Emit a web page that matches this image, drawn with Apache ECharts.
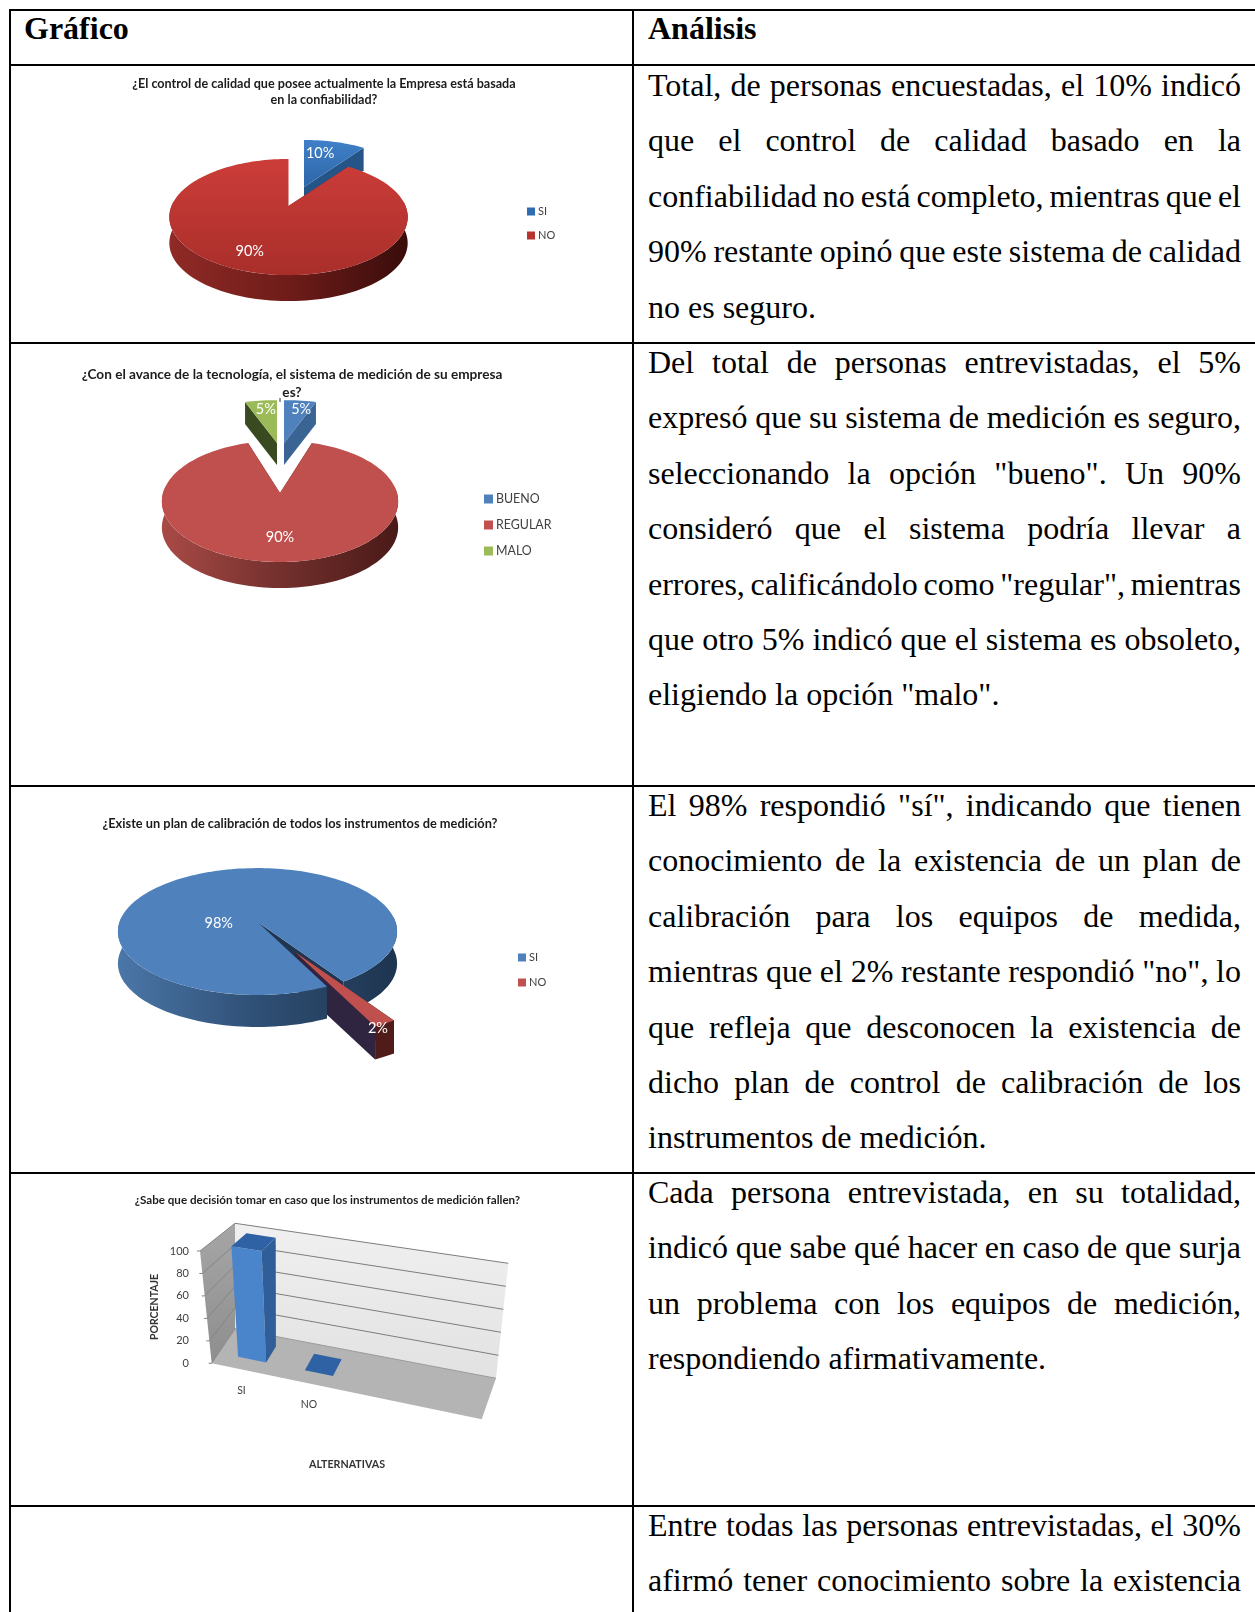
<!DOCTYPE html>
<html lang="es">
<head>
<meta charset="utf-8">
<title>Gráfico y análisis</title>
<script src="https://cdn.jsdelivr.net/npm/echarts@6/dist/echarts.min.js"></script>
<style>
  html, body { margin: 0; padding: 0; background: #fff; }
  #page { position: relative; width: 1255px; height: 1612px; overflow: hidden; background: #fff; }
  .rule { position: absolute; background: #000; }
  .chart { position: absolute; }
  .line { position: absolute; left: 648px; white-space: nowrap; font-family: "Liberation Serif", serif;
          font-size: 32px; line-height: 40px; color: #000; }
  .head { font-weight: bold; }
</style>
</head>
<body>
<div id="page"></div>
<script>
// ---- Chart values ----
const q1Categories = ['SI', 'NO'];
const q1Values = [10, 90];
const q2Categories = ['BUENO', 'REGULAR', 'MALO'];
const q2Values = [5, 90, 5];
const q3Categories = ['SI', 'NO'];
const q3Values = [98, 2];
const q4Categories = ['SI', 'NO', '', ''];
const q4Values = [100, 0];
const q4Ticks = [0, 20, 40, 60, 80, 100];

const q1Title = '¿El control de calidad que posee actualmente la Empresa está basada\nen la confiabilidad?';
const q2Title = '¿Con el avance de la tecnología, el sistema de medición de su empresa\nes?';
const q3Title = '¿Existe un plan de calibración de todos los instrumentos de medición?';
const q4Title = '¿Sabe que decisión tomar en caso que los instrumentos de medición fallen?';

// ---- Table text: one entry per printed line; the last line of a paragraph stays unjustified ----
const headers = [['Gráfico', 24, 28], ['Análisis', 648, 28]];
const paragraphs = [
  { center: 85, closed: true, lines: [
    'Total, de personas encuestadas, el 10% indicó',
    'que el control de calidad basado en la',
    'confiabilidad no está completo, mientras que el',
    '90% restante opinó que este sistema de calidad',
    'no es seguro.'] },
  { center: 362, closed: true, lines: [
    'Del total de personas entrevistadas, el 5%',
    'expresó que su sistema de medición es seguro,',
    'seleccionando la opción "bueno". Un 90%',
    'consideró que el sistema podría llevar a',
    'errores, calificándolo como "regular", mientras',
    'que otro 5% indicó que el sistema es obsoleto,',
    'eligiendo la opción "malo".'] },
  { center: 805, closed: true, lines: [
    'El 98% respondió "sí", indicando que tienen',
    'conocimiento de la existencia de un plan de',
    'calibración para los equipos de medida,',
    'mientras que el 2% restante respondió "no", lo',
    'que refleja que desconocen la existencia de',
    'dicho plan de control de calibración de los',
    'instrumentos de medición.'] },
  { center: 1192, closed: true, lines: [
    'Cada persona entrevistada, en su totalidad,',
    'indicó que sabe qué hacer en caso de que surja',
    'un problema con los equipos de medición,',
    'respondiendo afirmativamente.'] },
  { center: 1525, closed: false, lines: [
    'Entre todas las personas entrevistadas, el 30%',
    'afirmó tener conocimiento sobre la existencia'] }
];

// ---- Table layout ----
const LEFT_EDGE = 10, COLUMN = 633, TEXT_LEFT = 648, TEXT_RIGHT = 1241, LINE_STEP = 55.4;
const rowLines = [9, 64, 342, 785, 1172, 1505];
const page = document.getElementById('page');

function addRule(left, top, width, height) {
  const r = document.createElement('div');
  r.className = 'rule';
  r.style.cssText = `left:${left}px;top:${top}px;width:${width}px;height:${height}px`;
  page.appendChild(r);
}
rowLines.forEach(y => addRule(LEFT_EDGE - 1, y, 1255 - LEFT_EDGE + 1, 2));
addRule(LEFT_EDGE - 1, rowLines[0], 2, 1612 - rowLines[0]);
addRule(COLUMN - 1, rowLines[0], 2, 1612 - rowLines[0]);

function addLine(text, left, centerY, bold) {
  const el = document.createElement('div');
  el.className = 'line' + (bold ? ' head' : '');
  el.textContent = text;
  el.style.left = left + 'px';
  el.style.top = (centerY - 20) + 'px';
  page.appendChild(el);
  return el;
}
headers.forEach(h => addLine(h[0], h[1], h[2], true));
paragraphs.forEach(p => p.lines.forEach((text, i) => {
  const el = addLine(text, TEXT_LEFT, p.center + i * LINE_STEP, false);
  const isLast = p.closed && i === p.lines.length - 1;
  if (!isLast) {
    const gaps = text.split(' ').length - 1;
    const natural = el.getBoundingClientRect().width;
    el.style.wordSpacing = ((TEXT_RIGHT - TEXT_LEFT - natural) / gaps) + 'px';
  }
}));

// ---- Chart hosts, positioned over the table cells ----
function makeHost(rowTop, rowBottom) {
  const el = document.createElement('div');
  el.className = 'chart';
  const box = { x: LEFT_EDGE + 1, y: rowTop + 2, w: COLUMN - LEFT_EDGE - 2, h: rowBottom - rowTop - 2 };
  el.style.cssText = `left:${box.x}px;top:${box.y}px;width:${box.w}px;height:${box.h}px`;
  page.appendChild(el);
  return { chart: echarts.init(el), box };
}

const FONT = 'Lato, "Open Sans", sans-serif';
const RAD = Math.PI / 180;

// ---- Tilted pie built from custom series: slice angles come from the values.
// Every slice gets two series so that sides and tops can be stacked independently. ----
function tiltedPie(host, conf) {
  const { chart, box } = host;
  const total = conf.values.reduce((a, b) => a + b, 0);
  let cursor = conf.startAngle;
  const starts = conf.values.map(v => {
    const s = cursor;
    cursor += v / total * 360;
    return s;
  });
  const globalWall = stops => new echarts.graphic.LinearGradient(
    conf.apex[0] - box.x - conf.rx, 0, conf.apex[0] - box.x + conf.rx, 0,
    stops.map((c, i) => ({ offset: i / (stops.length - 1), color: c })), true);

  const geometry = (idx, value) => {
    const look = conf.slices[idx];
    const from = starts[idx], to = from + value / total * 360;
    const ax = look.apex[0] - box.x, ay = look.apex[1] - box.y;
    const scale = look.scale || 1, sy = look.scaleY || 1;
    const pt = (deg, r, drop) => {
      const X = r * Math.sin(deg * RAD), Z = r * Math.cos(deg * RAD);
      const s = 1 / (1 + conf.k * Z);
      return [ax + conf.rx * X * s, ay - conf.a * sy * Z * s + drop];
    };
    const arc = (a, b, drop) => {
      const out = [], n = Math.max(2, Math.ceil((b - a) / 2));
      for (let i = 0; i <= n; i++) out.push(pt(a + (b - a) * i / n, scale, drop));
      return out;
    };
    // outer wall of the slice for one turn of the circle, front half only
    const wall = turn => {
      const a = Math.max(from, 85 + turn), b = Math.min(to, 275 + turn);
      return b > a ? [{
        type: 'polygon',
        shape: { points: arc(a, b, 0).concat(arc(a, b, look.depth).reverse()) },
        style: { fill: globalWall(look.wall) }
      }] : [];
    };
    return { look, from, to, scale, pt, arc, wall };
  };

  const series = [];
  conf.categories.forEach((name, idx) => {
    const look = conf.slices[idx];
    const base = {
      type: 'custom', name, coordinateSystem: 'none', silent: true,
      itemStyle: { color: look.legendColor },
      data: [[conf.values[idx]]]
    };
    series.push(Object.assign({}, base, {
      z: look.sideZ,
      renderItem(params, api) {
        const g = geometry(idx, api.value(0));
        const face = deg => ({
          type: 'polygon',
          shape: { points: [g.pt(deg, 0, 0), g.pt(deg, g.scale, 0), g.pt(deg, g.scale, g.look.depth), g.pt(deg, 0, g.look.depth)] },
          style: { fill: g.look.face }
        });
        const turns = [0, 360].filter(t => !(g.look.raisedWall === t));
        return { type: 'group', children: [face(g.to), face(g.from)].concat(...turns.map(g.wall)) };
      }
    }));
    series.push(Object.assign({}, base, {
      z: look.topZ,
      renderItem(params, api) {
        const value = api.value(0);
        const g = geometry(idx, value);
        const raised = g.look.raisedWall === undefined ? [] : g.wall(g.look.raisedWall);
        const top = {
          type: 'polygon',
          shape: { points: [g.pt(g.from, 0, 0)].concat(g.arc(g.from, g.to, 0)) },
          style: { fill: g.look.topFill ? new echarts.graphic.LinearGradient(0, 0, 0, 1, [
            { offset: 0, color: g.look.topFill[0] }, { offset: 1, color: g.look.topFill[1] }]) : g.look.top }
        };
        const lp = g.pt((g.from + g.to) / 2, g.look.labelR, 0);
        const label = {
          type: 'text',
          z2: 10,
          style: {
            text: value + '%',
            x: lp[0] + g.look.nudge[0],
            y: lp[1] + g.look.nudge[1],
            fill: '#fff', font: `${conf.labelSize}px ${FONT}`,
            align: 'center', verticalAlign: 'middle'
          }
        };
        return { type: 'group', children: raised.concat([top, label]) };
      }
    }));
  });

  chart.setOption({
    animation: false,
    title: {
      text: conf.title,
      left: conf.titleCenter - box.x,
      top: conf.titleTop - box.y,
      textAlign: 'center',
      textStyle: { fontFamily: FONT, fontWeight: 'bold', fontSize: conf.titleSize, lineHeight: conf.titleLine, color: '#1c1c1c' }
    },
    legend: {
      data: conf.categories,
      orient: 'vertical',
      left: conf.legend.left - box.x,
      top: conf.legend.top - box.y,
      itemWidth: conf.legend.icon,
      itemHeight: conf.legend.icon,
      itemGap: conf.legend.gap,
      icon: 'rect',
      padding: 0,
      selectedMode: false,
      textStyle: { fontFamily: FONT, fontSize: conf.legend.size, color: '#404040', padding: [0, 0, 0, -2] }
    },
    graphic: conf.mark ? [{
      type: 'line', silent: true,
      shape: { x1: conf.mark[0] - box.x, y1: conf.mark[1] - box.y, x2: conf.mark[0] - box.x, y2: conf.mark[1] + 4 - box.y },
      style: { stroke: '#333', lineWidth: 1 }
    }] : [],
    series
  });
}

tiltedPie(makeHost(rowLines[1], rowLines[2]), {
  categories: q1Categories, values: q1Values, startAngle: 0,
  title: q1Title, titleCenter: 319, titleTop: 71, titleSize: 12.6, titleLine: 16,
  apex: [288.5, 206], rx: 117, a: 56, k: 0.19, labelSize: 14.5,
  legend: { left: 527, top: 206, icon: 8, gap: 13, size: 11 },
  slices: [
    { apex: [304, 187], depth: 23, sideZ: 1, topZ: 2, legendColor: '#2f6cb0', topFill: ['#3f80c8', '#2e66a8'],
      face: '#245488', wall: ['#245488', '#245488'], labelR: 0.62, nudge: [-4, -4] },
    { apex: [288.5, 206], depth: 26, sideZ: 3, topZ: 4, legendColor: '#b8322e', topFill: ['#cc3d39', '#a92e2a'],
      face: '#5c1512', wall: ['#8f2a26', '#6e1c19', '#3a0d0b'], labelR: 0.82, nudge: [-4, -6] }
  ]
});

tiltedPie(makeHost(rowLines[2], rowLines[3]), {
  categories: q2Categories, values: q2Values, startAngle: 0,
  title: q2Title, titleCenter: 287, titleTop: 361, titleSize: 13.6, titleLine: 18, mark: [280, 398],
  apex: [280, 493], rx: 117, a: 59.5, k: 0.138, labelSize: 14.5,
  legend: { left: 484, top: 493, icon: 9, gap: 14, size: 12.4 },
  slices: [
    { apex: [284, 443], scaleY: 0.82, depth: 22, sideZ: 1, topZ: 2, legendColor: '#4f81bd', top: '#4f81bd',
      face: '#3a6493', wall: ['#3a6493', '#3a6493'], labelR: 0.8, nudge: [4, 1] },
    { apex: [280, 493], depth: 26, sideZ: 3, topZ: 4, legendColor: '#c0504d', top: '#c0504d',
      face: '#5a1f1d', wall: ['#a84a46', '#73302d', '#4a1a18'], labelR: 0.62, nudge: [0, 4] },
    { apex: [277, 443], scaleY: 0.82, depth: 22, sideZ: 1, topZ: 2, legendColor: '#9bbb59', top: '#9bbb59',
      face: '#3a4a20', wall: ['#3a4a20', '#3a4a20'], labelR: 0.8, nudge: [2, 1] }
  ]
});

tiltedPie(makeHost(rowLines[3], rowLines[4]), {
  categories: q3Categories, values: q3Values, startAngle: 154.2,
  title: q3Title, titleCenter: 295, titleTop: 812, titleSize: 12.8, titleLine: 14,
  apex: [257.5, 922], rx: 138, a: 62, k: 0.15, labelSize: 14.5,
  legend: { left: 518, top: 952, icon: 8, gap: 14, size: 11 },
  slices: [
    { apex: [257.5, 922], depth: 32, sideZ: 1, topZ: 3, raisedWall: 0, legendColor: '#4f81bd', top: '#4f81bd',
      face: '#1f3550', wall: ['#4a76a8', '#2f4f74', '#1e3550'], labelR: 0.45, nudge: [-10, 24] },
    { apex: [295, 952], scale: 1.13, depth: 33, sideZ: 2, topZ: 4, legendColor: '#c0504d', top: '#c0504d',
      face: '#2f2540', wall: ['#4f1c1a', '#4f1c1a'], labelR: 1.0, nudge: [5, 14] }
  ]
});

// ---- Column chart in a tilted box: bar heights run through the value axis scale ----
(function () {
  const { chart, box } = makeHost(rowLines[4], rowLines[5]);
  const GRID = { left: 193 - box.x, top: 1251 - box.y, width: 308, height: 112 };
  const local = c => [c[0] - box.x, c[1] - box.y];
  const corner = {
    flb: local([211.7, 1363.3]), flt: local([200, 1251]),
    blb: local([235, 1328.7]),   blt: local([235, 1223.3]),
    brb: local([496, 1378.3]),   brt: local([508.3, 1263.3]),
    frb: local([481.7, 1419.3]), frt: local([494.7, 1301.7])
  };
  const mix = (p, q, t) => [p[0] + (q[0] - p[0]) * t, p[1] + (q[1] - p[1]) * t];
  // u runs along the categories, v up the values, w from the front edge to the back wall
  const proj = (u, v, w) => {
    const fb = mix(mix(corner.flb, corner.frb, u), mix(corner.flt, corner.frt, u), v);
    const bk = mix(mix(corner.blb, corner.brb, u), mix(corner.blt, corner.brt, u), v);
    return mix(fb, bk, w);
  };
  const toUV = p => [(p[0] - GRID.left) / GRID.width, (GRID.top + GRID.height - p[1]) / GRID.height];
  const poly = (points, fill) => ({ type: 'polygon', shape: { points }, style: { fill } });
  const seg = (a, b, stroke) => ({ type: 'line', shape: { x1: a[0], y1: a[1], x2: b[0], y2: b[1] }, style: { stroke, lineWidth: 1 } });

  chart.setOption({
    animation: false,
    title: {
      text: q4Title, left: 322.5 - box.x, top: 1189 - box.y, textAlign: 'center',
      textStyle: { fontFamily: FONT, fontWeight: 'bold', fontSize: 11.6, color: '#1c1c1c' }
    },
    grid: GRID,
    xAxis: {
      type: 'category', data: q4Categories,
      name: 'ALTERNATIVAS', nameLocation: 'middle', nameGap: 96,
      nameTextStyle: { fontFamily: FONT, fontWeight: 'bold', fontSize: 10.7, color: '#333' },
      axisLine: { show: false }, axisTick: { show: false }, axisLabel: { show: false }
    },
    yAxis: {
      type: 'value', min: 0, max: 100, interval: 20,
      name: 'PORCENTAJE', nameLocation: 'middle', nameRotate: 90, nameGap: 33,
      nameTextStyle: { fontFamily: FONT, fontWeight: 'bold', fontSize: 10.5, color: '#333' },
      axisLine: { show: false }, axisTick: { show: false }, splitLine: { show: false },
      axisLabel: { margin: 4, fontFamily: FONT, fontSize: 11, color: '#404040' }
    },
    series: [
      {
        type: 'custom', coordinateSystem: 'cartesian2d', silent: true, z: 1, data: [[0, 0]],
        renderItem() {
          const c = corner;
          return { type: 'group', children: [
            poly([c.blb, c.blt, c.brt, c.brb], new echarts.graphic.LinearGradient(0, 0, 0, 1, [
              { offset: 0, color: '#f0f0f0' }, { offset: 1, color: '#e2e2e2' }])),
            poly([c.flb, c.flt, c.blt, c.blb], new echarts.graphic.LinearGradient(0, 0, 0, 1, [
              { offset: 0, color: '#a6a6a6' }, { offset: 1, color: '#8e8e8e' }])),
            poly([c.flb, c.blb, c.brb, c.frb], '#b4b4b4')
          ] };
        }
      },
      {
        type: 'custom', coordinateSystem: 'cartesian2d', silent: true, z: 2,
        data: q4Ticks.map(t => [0, t]),
        renderItem(params, api) {
          const v = toUV(api.coord([0, api.value(1)]))[1];
          const front = proj(0, v, 0), back = proj(0, v, 1), right = proj(1, v, 1);
          return { type: 'group', children: [
            seg(back, right, v > 0 ? '#7d7d7d' : '#9a9a9a'),
            seg(front, back, '#858585'),
            seg([front[0] - 3, front[1]], front, '#808080')
          ] };
        }
      },
      {
        type: 'custom', coordinateSystem: 'cartesian2d', silent: true, z: 3,
        data: q4Values.map((v, i) => [i, v]),
        renderItem(params, api) {
          const p = api.coord([api.value(0), api.value(1)]);
          const [u, v] = toUV(p);
          const half = api.size([1, 0])[0] / GRID.width * 0.21;
          const u0 = u - half, u1 = u + half, w0 = 0.3, w1 = 0.75;
          const catLabel = proj(u, 0, 0);
          return { type: 'group', children: [
            poly([proj(u0, 0, w0), proj(u0, v, w0), proj(u1, v, w0), proj(u1, 0, w0)], '#4a85cc'),
            poly([proj(u1, 0, w0), proj(u1, v, w0), proj(u1, v, w1), proj(u1, 0, w1)], '#2f5e98'),
            poly([proj(u0, v, w0), proj(u1, v, w0), proj(u1, v, w1), proj(u0, v, w1)], '#2f62a4'),
            { type: 'text', style: {
                text: q4Categories[api.value(0)], x: catLabel[0] - 4, y: catLabel[1] + 20,
                fill: '#404040', font: `10.5px ${FONT}`, align: 'center', verticalAlign: 'middle' } }
          ] };
        }
      }
    ]
  });
})();
</script>
</body>
</html>
